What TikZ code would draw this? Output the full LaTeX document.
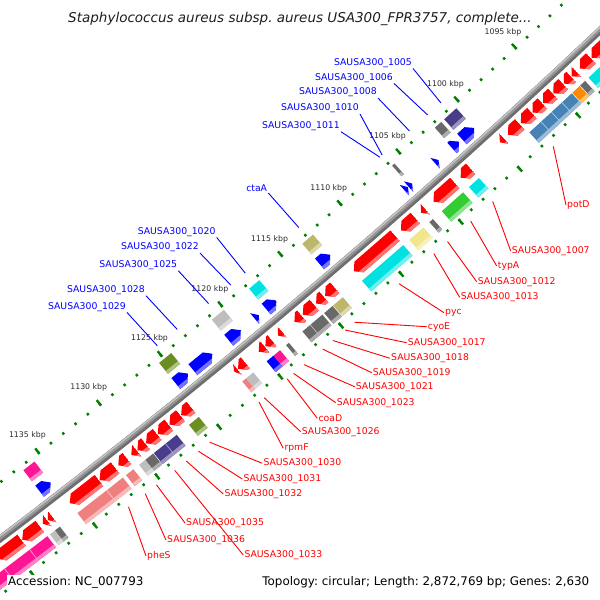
\documentclass[tikz,border=0pt]{standalone}
\usepackage{fontspec}
\setmainfont{DejaVu Sans}
\usetikzlibrary{calc}
\frenchspacing
\definecolor{rulerg}{RGB}{0,128,0}
\definecolor{fred}{RGB}{255,0,0}
\definecolor{fblue}{RGB}{0,0,255}
\definecolor{cogpurple}{RGB}{72,61,139}
\definecolor{coggray}{RGB}{105,105,105}
\definecolor{cogkhaki}{RGB}{189,183,107}
\definecolor{coglkhaki}{RGB}{240,230,140}
\definecolor{cogcyan}{RGB}{0,225,225}
\definecolor{cogsilver}{RGB}{190,190,190}
\definecolor{cogolive}{RGB}{107,142,35}
\definecolor{cogpink}{RGB}{255,20,147}
\definecolor{cogsteel}{RGB}{70,130,180}
\definecolor{cogorange}{RGB}{255,140,0}
\definecolor{coggreen}{RGB}{50,205,50}
\definecolor{cogsalmon}{RGB}{240,128,128}
\definecolor{bbdark}{RGB}{110,110,110}
\definecolor{bbmid}{RGB}{150,150,150}
\definecolor{bblight}{RGB}{195,195,195}
\definecolor{tickc}{RGB}{45,45,45}
\definecolor{titlec}{RGB}{30,30,30}
\def\Cx{-4347.5}
\def\Cy{-5199.0}
\def\RB{7199}
\def\PhiO{49.68}
\def\Kst{0.125315}
\newcommand\gx[2]{\fpeval{round(\Cx+(\RB+(#2))*cosd(\PhiO+((#1)-1115)*\Kst),3)}}
\newcommand\gy[2]{\fpeval{round(\Cy+(\RB+(#2))*sind(\PhiO+((#1)-1115)*\Kst),3)}}
\newcommand\gp[2]{(\gx{#1}{#2},\gy{#1}{#2})}
\newcommand\gbox[4]{%
  \fill[#1] \gp{#2}{#4-7} -- \gp{#3}{#4-7} -- \gp{#3}{#4+7} -- \gp{#2}{#4+7} -- cycle;
  \fill[#1!55!white] \gp{#2}{#4+3.5} -- \gp{#3}{#4+3.5} -- \gp{#3}{#4+7} -- \gp{#2}{#4+7} -- cycle;}
\newcommand\gsep[3]{\draw[#1!45!white, line width=0.7pt] \gp{#2}{#3-7} -- \gp{#2}{#3+7};}
\newcommand\garF[4]{%
  \edef\nk{\fpeval{max(#2,#3-0.42)}}%
  \begin{scope}
    \clip \gp{#2}{#4-7} -- \gp{\nk}{#4-7} -- \gp{#3}{#4} -- \gp{\nk}{#4+7} -- \gp{#2}{#4+7} -- cycle;
    \fill[#1] \gp{#2}{#4-9} -- \gp{#3}{#4-9} -- \gp{#3}{#4+9} -- \gp{#2}{#4+9} -- cycle;
    \fill[#1!55!white] \gp{#2}{#4+3.5} -- \gp{#3}{#4+3.5} -- \gp{#3}{#4+9} -- \gp{#2}{#4+9} -- cycle;
  \end{scope}}
\newcommand\garR[4]{%
  \edef\nk{\fpeval{min(#3,#2+0.42)}}%
  \begin{scope}
    \clip \gp{#3}{#4-7} -- \gp{\nk}{#4-7} -- \gp{#2}{#4} -- \gp{\nk}{#4+7} -- \gp{#3}{#4+7} -- cycle;
    \fill[#1] \gp{#2}{#4-9} -- \gp{#3}{#4-9} -- \gp{#3}{#4+9} -- \gp{#2}{#4+9} -- cycle;
    \fill[#1!55!white] \gp{#2}{#4+3.5} -- \gp{#3}{#4+3.5} -- \gp{#3}{#4+9} -- \gp{#2}{#4+9} -- cycle;
  \end{scope}}
\tikzset{
  tickdot/.style={draw=rulerg, line width=2.4pt},
  tlbl/.style={text=tickc, font=\fontsize{7.8}{9}\selectfont, inner sep=0pt},
  bl/.style={text=fblue, font=\fontsize{9.3}{11}\selectfont, inner sep=1pt, anchor=east},
  rl/.style={text=fred, font=\fontsize{9.3}{11}\selectfont, inner sep=1pt, anchor=west},
  bline/.style={draw=fblue, line width=0.9pt},
  rline/.style={draw=fred, line width=0.9pt},
  foot/.style={text=black, font=\fontsize{11.9}{14}\selectfont, inner sep=1.5pt, fill=white}
}
\newcommand\blab[5]{\node[bl] (#1) at (#2,#3) {#5}; \path \gp{#4}{-55} coordinate (#1f); \draw[bline] (#1.south east) -- (#1f);}
\newcommand\rlab[5]{\node[rl] (#1) at (#2,#3) {#5}; \path \gp{#4}{53} coordinate (#1f); \draw[rline] (#1f) -- (#1.west);}
\begin{document}
\begin{tikzpicture}[x=1pt,y=-1pt]
\useasboundingbox (0,0) rectangle (600,600);
\fill[white] (0,0) rectangle (600,600);
\begin{scope}
\clip (0,0) rectangle (600,600);
% backbone
\draw[line width=7pt, bbdark] \gp{1078}{0} \foreach \q in {1082,1086,...,1150}{ -- \gp{\q}{0}};
\draw[line width=4pt, bbmid] \gp{1078}{-1.3} \foreach \q in {1082,1086,...,1150}{ -- \gp{\q}{-1.3}};
\draw[line width=1.6pt, bblight] \gp{1078}{-2.4} \foreach \q in {1082,1086,...,1150}{ -- \gp{\q}{-2.4}};
% ticks
\foreach \k in {1080,...,1150}{
  \draw[tickdot] \gp{\k}{-46.3} -- \gp{\k}{-43.7};
  \draw[tickdot] \gp{\k}{43.7} -- \gp{\k}{46.3};
}
\foreach \k in {1080,1085,...,1150}{
  \draw[tickdot] \gp{\k}{-50.5} -- \gp{\k}{-43.5};
  \draw[tickdot] \gp{\k}{43.5} -- \gp{\k}{50.5};
}
% forward strand genes (outside)
\garF{fred}{1090.70}{1091.90}{14} \gbox{cogcyan}{1090.70}{1091.90}{33.5}
\garF{fred}{1091.95}{1092.90}{14} \gbox{cogcyan}{1091.95}{1092.90}{33.5}
\garF{fred}{1093.20}{1093.62}{14} \gbox{coggray}{1093.20}{1093.62}{33.5}
\garF{fred}{1093.67}{1094.30}{14} \gbox{cogorange}{1093.67}{1094.30}{33.5}
\garF{fred}{1094.35}{1095.20}{14} \gbox{cogsteel}{1094.35}{1095.20}{33.5}
\garF{fred}{1095.25}{1096.10}{14} \gbox{cogsteel}{1095.20}{1096.10}{33.5}
\garF{fred}{1096.15}{1097.00}{14} \gbox{cogsteel}{1096.10}{1097.00}{33.5}
\garF{fred}{1097.05}{1098.00}{14} \gbox{cogsteel}{1097.00}{1098.00}{33.5}
\gsep{cogsteel}{1095.20}{33.5} \gsep{cogsteel}{1096.10}{33.5} \gsep{cogsteel}{1097.00}{33.5}
\garF{fred}{1098.10}{1099.10}{14}
\garF{fred}{1099.45}{1099.80}{14}
\garF{fred}{1102.30}{1103.15}{14} \gbox{cogcyan}{1102.30}{1103.15}{33.5}
\garF{fred}{1103.65}{1105.45}{14} \gbox{coggreen}{1103.65}{1105.45}{33.5}
\garF{fred}{1106.15}{1106.50}{14} \gbox{coggray}{1106.20}{1106.50}{33.5}
\garF{fred}{1107.00}{1108.20}{14} \gbox{coglkhaki}{1107.00}{1108.20}{33.5}
\garF{fred}{1108.70}{1112.15}{14} \gbox{cogcyan}{1108.70}{1112.15}{33.5}
\garF{fred}{1113.75}{1114.55}{14} \gbox{cogkhaki}{1113.75}{1114.55}{33.5}
\garF{fred}{1114.65}{1115.30}{14} \gbox{coggray}{1114.60}{1115.30}{33.5}
\garF{fred}{1115.45}{1116.40}{14} \gbox{coggray}{1115.45}{1116.45}{33.5}
\garF{fred}{1116.50}{1117.10}{14} \gbox{coggray}{1116.45}{1117.10}{33.5}
\gsep{coggray}{1116.45}{33.5}
\garF{fred}{1118.10}{1118.45}{14} \gbox{coggray}{1118.22}{1118.45}{33.5}
\garF{fred}{1118.95}{1119.50}{14} \gbox{cogpink}{1118.95}{1119.50}{33.5}
\garF{fred}{1119.55}{1120.05}{14} \gbox{fblue}{1119.50}{1120.05}{33.5}
\garF{fred}{1121.15}{1121.75}{14} \gbox{cogsilver}{1121.15}{1121.75}{33.5}
\garF{fred}{1121.80}{1122.05}{14} \gbox{cogsalmon}{1121.75}{1122.05}{33.5}
\garF{fred}{1125.60}{1126.40}{14} \gbox{cogolive}{1125.60}{1126.40}{33.5}
\garF{fred}{1126.45}{1127.35}{14}
\garF{fred}{1127.40}{1128.30}{14} \gbox{cogpurple}{1127.40}{1128.30}{33.5}
\garF{fred}{1128.35}{1129.25}{14} \gbox{cogpurple}{1128.30}{1129.25}{33.5}
\gsep{cogpurple}{1128.30}{33.5}
\garF{fred}{1129.30}{1129.95}{14} \gbox{coggray}{1129.30}{1129.95}{33.5}
\garF{fred}{1130.00}{1130.45}{14} \gbox{cogsilver}{1129.95}{1130.45}{33.5}
\garF{fred}{1130.80}{1131.50}{14} \gbox{cogsalmon}{1130.90}{1131.50}{33.5}
\garF{fred}{1131.75}{1133.00}{14} \gbox{cogsalmon}{1131.75}{1133.05}{33.5}
\garF{fred}{1133.05}{1135.40}{14} \gbox{cogsalmon}{1133.05}{1135.40}{33.5}
\gsep{cogsalmon}{1133.05}{33.5}
\garF{fred}{1136.80}{1137.15}{14} \gbox{coggray}{1136.80}{1137.20}{33.5}
\garF{fred}{1137.20}{1137.55}{14} \gbox{cogsilver}{1137.20}{1137.60}{33.5}
\garF{fred}{1137.80}{1139.20}{14} \gbox{cogpink}{1137.80}{1139.20}{33.5}
\garF{fred}{1139.25}{1141.20}{14} \gbox{cogpink}{1139.20}{1141.20}{33.5}
\garF{fred}{1141.30}{1143.00}{14} \gbox{cogpink}{1141.20}{1143.00}{33.5}
\gsep{cogpink}{1139.20}{33.5} \gsep{cogpink}{1141.20}{33.5}
% reverse strand genes (inside)
\garR{fblue}{1100.40}{1101.45}{-14} \gbox{cogpurple}{1100.40}{1101.45}{-33.5}
\garR{fblue}{1101.70}{1102.30}{-14} \gbox{coggray}{1101.70}{1102.25}{-33.5}
\garR{fblue}{1103.45}{1103.75}{-14}
\garR{fblue}{1105.70}{1106.00}{-14} \gbox{coggray}{1105.70}{1105.90}{-33.5}
\garR{fblue}{1106.05}{1106.35}{-14}
\garR{fblue}{1112.60}{1113.50}{-14} \gbox{cogkhaki}{1112.60}{1113.50}{-33.5}
\garR{fblue}{1117.10}{1117.95}{-14} \gbox{cogcyan}{1117.10}{1117.95}{-33.5}
\garR{fblue}{1118.55}{1118.90}{-14}
\garR{fblue}{1120.05}{1121.05}{-14} \gbox{cogsilver}{1120.05}{1121.05}{-33.5}
\garR{fblue}{1122.40}{1124.00}{-14}
\garR{fblue}{1124.40}{1125.40}{-14} \gbox{cogolive}{1124.40}{1125.40}{-33.5}
\garR{fblue}{1135.55}{1136.45}{-14} \gbox{cogpink}{1135.55}{1136.45}{-33.5}
\end{scope}
% ruler labels
\foreach \k in {1095,1100,...,1135}{
  \node[tlbl] (tk\k) at (\gx{\k-0.1}{-65.3},\gy{\k-0.1}{-65.3}) {\k\ kbp};
}
% blue labels
\blab{b1005}{413}{62.7}{1100.9}{SAUSA300\_1005}
\blab{b1006}{394}{77.7}{1102.05}{SAUSA300\_1006}
\blab{b1008}{378}{92.3}{1103.6}{SAUSA300\_1008}
\blab{b1010}{360}{108.3}{1105.93}{SAUSA300\_1010}
\blab{b1011}{341}{126}{1106.13}{SAUSA300\_1011}
\blab{bctaA}{268.3}{188.3}{1113.0}{ctaA}
\blab{b1020}{216.7}{231.7}{1117.5}{SAUSA300\_1020}
\blab{b1022}{200}{247.3}{1118.7}{SAUSA300\_1022}
\blab{b1025}{178.3}{265}{1120.55}{SAUSA300\_1025}
\blab{b1028}{146}{290}{1123.15}{SAUSA300\_1028}
\blab{b1029}{127}{306.7}{1124.8}{SAUSA300\_1029}
% red labels
\rlab{rpotD}{566}{205}{1097.48}{potD}
\rlab{r1007}{510.7}{251}{1102.64}{SAUSA300\_1007}
\rlab{rtypA}{496.7}{266}{1104.5}{typA}
\rlab{r1012}{476.7}{281.7}{1106.45}{SAUSA300\_1012}
\rlab{r1013}{459.7}{297.3}{1107.6}{SAUSA300\_1013}
\rlab{rpyc}{444}{312.7}{1110.5}{pyc}
\rlab{rcyoE}{426.7}{326.7}{1114.22}{cyoE}
\rlab{r1017}{406.7}{342.7}{1114.98}{SAUSA300\_1017}
\rlab{r1018}{390}{358.3}{1116.0}{SAUSA300\_1018}
\rlab{r1019}{371.7}{372.7}{1116.84}{SAUSA300\_1019}
\rlab{r1021}{354.7}{386.7}{1118.37}{SAUSA300\_1021}
\rlab{r1023}{335.7}{402.7}{1119.23}{SAUSA300\_1023}
\rlab{rcoaD}{317.3}{418.3}{1119.76}{coaD}
\rlab{r1026}{300.7}{431.7}{1121.63}{SAUSA300\_1026}
\rlab{rrpmF}{283.3}{448.3}{1122.06}{rpmF}
\rlab{r1030}{262.3}{463.3}{1126.07}{SAUSA300\_1030}
\rlab{r1031}{242.3}{479}{1126.98}{SAUSA300\_1031}
\rlab{r1032}{223.3}{494}{1127.96}{SAUSA300\_1032}
\rlab{r1035}{185}{523}{1130.37}{SAUSA300\_1035}
\rlab{r1036}{166}{540}{1131.27}{SAUSA300\_1036}
\rlab{rpheS}{146}{556}{1132.61}{pheS}
\rlab{r1033}{243.3}{555}{1128.9}{SAUSA300\_1033}
% title and footer
\node[text=titlec, font=\fontsize{13.5}{16}\selectfont\itshape, inner sep=1pt] (title) at (300,18.5) {Staphylococcus aureus subsp. aureus USA300\_FPR3757, complete...};
\node[foot, anchor=west] (acc) at (6.5,582) {Accession: NC\_007793};
\node[foot, anchor=east] (topo) at (591,582) {Topology: circular; Length: 2,872,769 bp; Genes: 2,630};
\end{tikzpicture}
\end{document}
